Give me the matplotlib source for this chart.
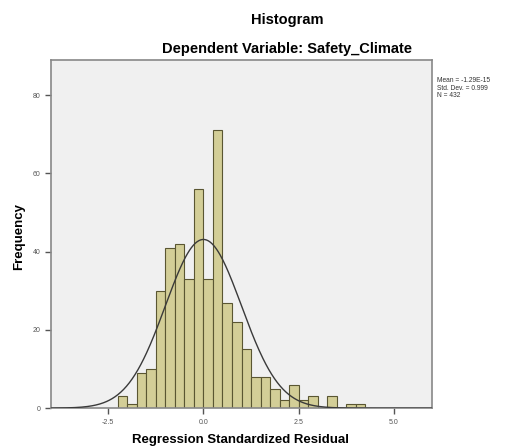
import numpy as np
from matplotlib import pyplot as plt

plt.rcParams['font.family'] = ['Liberation Sans', 'DejaVu Sans']

# histogram bins (width 0.25) and counts
bin_edges = np.arange(-2.25, 4.25 + 0.001, 0.25)
counts = [3, 1, 9, 10, 30, 41, 42, 33, 56, 33, 71, 27, 22, 15,
          8, 8, 5, 2, 6, 2, 3, 0, 3, 0, 1, 1]
mean = -1.29e-15
std = 0.999
n = 432
bin_width = 0.25

x_ticks = [-2.5, 0.0, 2.5, 5.0]
y_ticks = [0, 20, 40, 60, 80]

fig = plt.figure(figsize=(5.18, 4.48), dpi=100)
ax = fig.add_axes([0.0985, 0.089, 0.7355, 0.777])
ax.set_facecolor('#f0f0f0')

ax.bar(bin_edges[:-1], counts, width=bin_width, align='edge',
       color='#d3ce97', edgecolor='#5a5632', linewidth=0.8, zorder=2)

# normal curve scaled to counts
xs = np.linspace(-4, 6, 400)
ys = n * bin_width / (std * np.sqrt(2 * np.pi)) * np.exp(-0.5 * ((xs - mean) / std) ** 2)
ax.plot(xs, ys, color='#3a3a3a', linewidth=1.0, zorder=3)

ax.set_xlim(-4, 6)
ax.set_ylim(0, 89)
ax.set_xticks(x_ticks)
ax.set_xticklabels(['%.1f' % v for v in x_ticks])
ax.set_yticks(y_ticks)
ax.tick_params(labelsize=5, colors='#555555', length=4, width=1, direction='out')
for s in ax.spines.values():
    s.set_color('#888888')
    s.set_linewidth(1.2)

fig.text(241 / 518, 1 - 440 / 448, 'Regression Standardized Residual',
         ha='center', va='center', fontsize=9.5, fontweight='bold')
fig.text(19 / 518, 1 - 237 / 448, 'Frequency', ha='center', va='center',
         rotation=90, fontsize=9.5, fontweight='bold')

fig.text(287 / 518, 1 - 20 / 448, 'Histogram', ha='center', va='center',
         fontsize=10.5, fontweight='bold')
fig.text(287 / 518, 1 - 49 / 448, 'Dependent Variable: Safety_Climate', ha='center',
         va='center', fontsize=10.5, fontweight='bold')
fig.text(437 / 518, 1 - 77 / 448,
         'Mean = -1.29E-15\nStd. Dev. = 0.999\nN = 432',
         ha='left', va='top', fontsize=4.8, linespacing=1.1, color='#333333')

fig.savefig('out.png', dpi=100)
